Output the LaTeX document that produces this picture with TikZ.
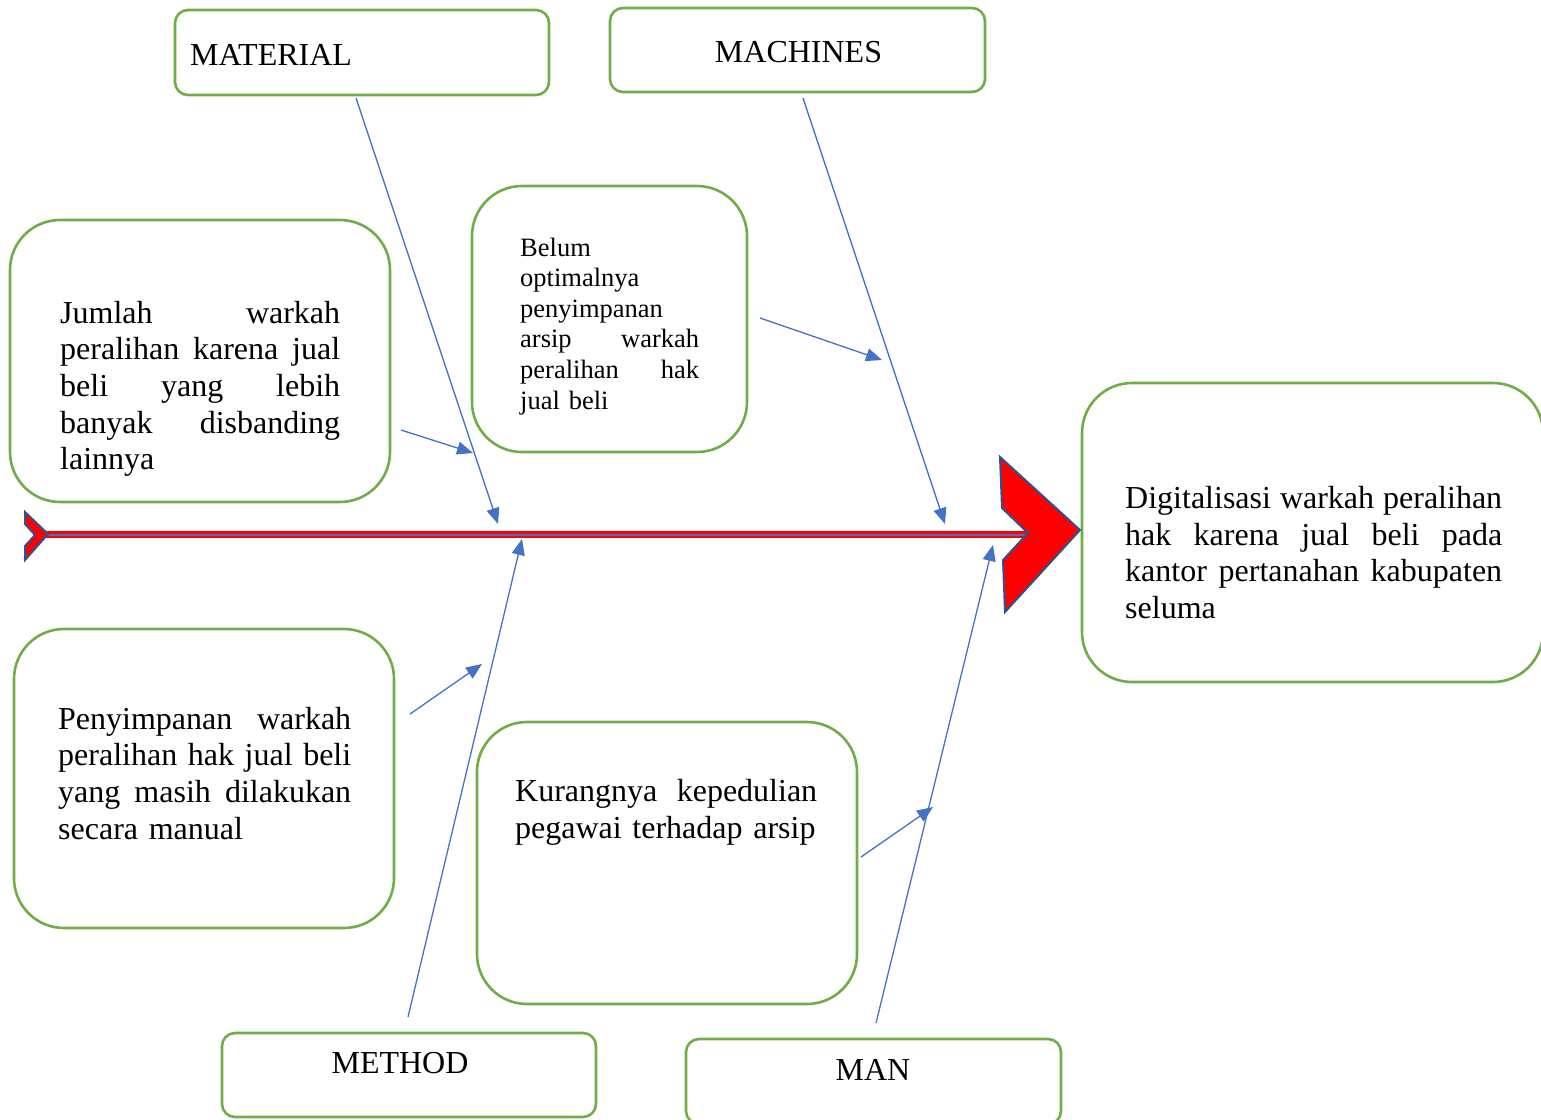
\documentclass[tikz,border=0pt]{standalone}
\usepackage{fontspec}
\setmainfont{Liberation Serif}
\usetikzlibrary{arrows.meta}
\definecolor{grn}{HTML}{70AD47}
\definecolor{blu}{HTML}{4472C4}
\definecolor{dblu}{HTML}{2F528F}
\newcommand\JL[2]{\leavevmode\hbox to #1{\spaceskip=0.25em plus 10em\relax #2}}
\begin{document}
\begin{tikzpicture}[x=1pt,y=-1pt,
  gbox/.style={draw=grn,line width=2.6pt,rounded corners=#1,inner sep=0pt,fill=white},
  gbox/.default=13pt,
  bigtxt/.style={inner sep=0pt,anchor=base west,font=\fontsize{32}{36.7}\selectfont},
  smtxt/.style={inner sep=0pt,anchor=base west,font=\fontsize{26.5}{30.6}\selectfont},
  lbl/.style={inner sep=0pt,anchor=base,font=\fontsize{32}{36.7}\selectfont},
  conn/.style={draw=blu,line width=1.3pt,-{Triangle[length=16pt,width=13pt]}},
  chev/.style={draw=dblu,line width=2pt,fill=red,line join=miter}]
\useasboundingbox (0,0) rectangle (1541,1119);
\clip (0,0) rectangle (1541,1119);

% boxes
\node[gbox, minimum width=374pt, minimum height=85pt] (mat) at (362,52.5) {};
\node[gbox, minimum width=375pt, minimum height=84pt] (mach) at (797.5,50) {};
\node[gbox=50pt, minimum width=380pt, minimum height=282pt] (jum) at (200,361) {};
\node[gbox=50pt, minimum width=275pt, minimum height=266pt] (bel) at (609.5,319) {};
\node[gbox=50pt, minimum width=380pt, minimum height=299pt] (pen) at (204,778.5) {};
\node[gbox=50pt, minimum width=380pt, minimum height=282pt] (kur) at (667,863) {};
\node[gbox=50pt, minimum width=461pt, minimum height=299pt] (dig) at (1312.5,532.5) {};
\node[gbox, minimum width=374pt, minimum height=84pt] (meth) at (409,1075) {};
\node[gbox, minimum width=375pt, minimum height=85pt] (man) at (873.5,1081.5) {};

% texts
\node[bigtxt] (tmat) at (190,65) {MATERIAL};
\node[lbl] (tmach) at (798.5,62) {MACHINES};
\node[lbl] (tmeth) at (400,1073) {METHOD};
\node[lbl] (tman) at (873,1080) {MAN};
\node[bigtxt, text width=280pt] (tjum) at (60,323) {\JL{280pt}{Jumlah warkah}\\\JL{280pt}{peralihan karena jual}\\\JL{280pt}{beli yang lebih}\\\JL{280pt}{banyak disbanding}\\lainnya};
\node[smtxt, text width=179pt] (tbel) at (520,256) {Belum\\optimalnya\\penyimpanan\\\JL{179pt}{arsip warkah}\\\JL{179pt}{peralihan hak}\\jual beli};
\node[bigtxt, text width=293pt] (tpen) at (58,729) {\JL{293pt}{Penyimpanan warkah}\\\JL{293pt}{peralihan hak jual beli}\\\JL{293pt}{yang masih dilakukan}\\secara manual};
\node[bigtxt, text width=302pt] (tkur) at (515,801.5) {\JL{302pt}{Kurangnya kepedulian}\\pegawai terhadap arsip};
\node[bigtxt, text width=377pt] (tdig) at (1125,508.3) {\JL{377pt}{Digitalisasi warkah peralihan}\\\JL{377pt}{hak karena jual beli pada}\\\JL{377pt}{kantor pertanahan kabupaten}\\seluma};

% spine
\coordinate (tailtip) at (46,534.5);
\coordinate (headnotch) at (1028,534.5);
\draw[red,line width=7pt] (tailtip) -- (headnotch);
\draw[blu,line width=2pt] (tailtip) -- (headnotch);
\draw[chev] (25,512) -- (48,534) -- (25,560) -- (25,546) -- (35,535) -- (25,524) -- cycle;
\draw[chev] (1000,457) -- (1080,530) -- (1005,612) -- (1003,560) -- (1028,533) -- (1002,508) -- cycle;

% connector end points
\coordinate (m1) at (356,98);   \coordinate (m2) at (498,524);
\coordinate (j1) at (401,430);  \coordinate (j2) at (473,453);
\coordinate (c1) at (803,98);   \coordinate (c2) at (945,524);
\coordinate (b1) at (760,318);  \coordinate (b2) at (882,360);
\coordinate (t1) at (408,1017); \coordinate (t2) at (522,539);
\coordinate (p1) at (410,714);  \coordinate (p2) at (482,664);
\coordinate (n1) at (876,1023); \coordinate (n2) at (993,545);
\coordinate (k1) at (861,857);  \coordinate (k2) at (933,807);

\draw[conn] (m1) -- (m2);
\draw[conn] (j1) -- (j2);
\draw[conn] (c1) -- (c2);
\draw[conn] (b1) -- (b2);
\draw[conn] (t1) -- (t2);
\draw[conn] (p1) -- (p2);
\draw[conn] (n1) -- (n2);
\draw[conn] (k1) -- (k2);
\end{tikzpicture}
\end{document}
